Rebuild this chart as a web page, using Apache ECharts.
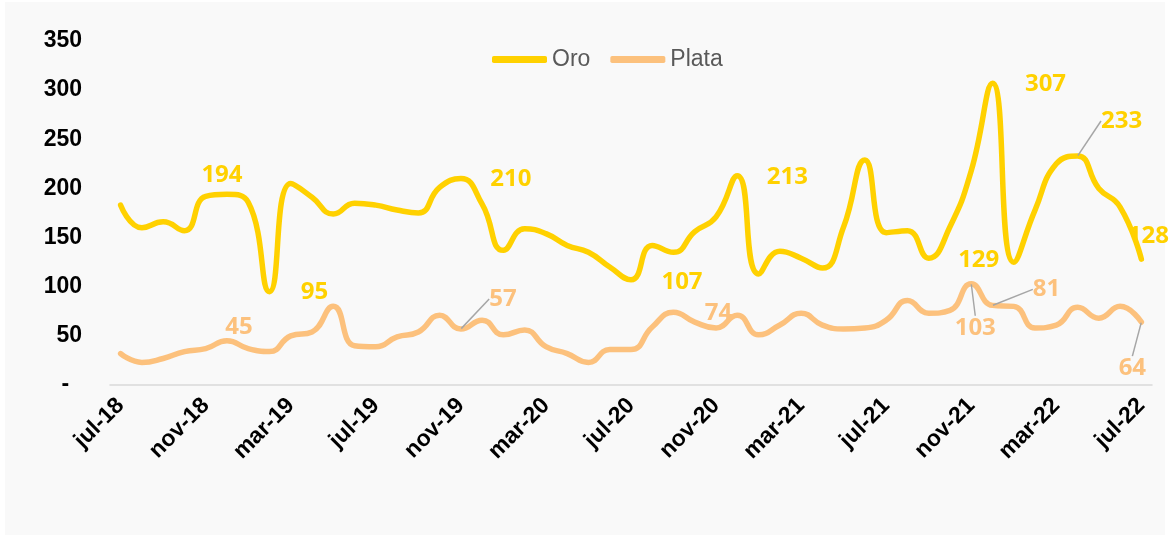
<!DOCTYPE html>
<html>
<head>
<meta charset="utf-8">
<title>Oro y Plata</title>
<script src="https://cdn.jsdelivr.net/npm/echarts@6/dist/echarts.min.js"></script>
<style>
  html, body { margin: 0; padding: 0; background: #fff; }
  #panel { position: absolute; left: 5px; top: 2px; width: 1160px; height: 533px; background: #f9f9f9; }
  #chart { position: absolute; left: 0; top: 0; width: 1173px; height: 539px; }
</style>
</head>
<body>
<div id="panel"></div>
<div id="chart"></div>
<script>
// meses (eje x)
const meses = [
  'jul-18', 'ago-18', 'sep-18', 'oct-18', 'nov-18', 'dic-18',
  'ene-19', 'feb-19', 'mar-19', 'abr-19', 'may-19', 'jun-19',
  'jul-19', 'ago-19', 'sep-19', 'oct-19', 'nov-19', 'dic-19',
  'ene-20', 'feb-20', 'mar-20', 'abr-20', 'may-20', 'jun-20',
  'jul-20', 'ago-20', 'sep-20', 'oct-20', 'nov-20', 'dic-20',
  'ene-21', 'feb-21', 'mar-21', 'abr-21', 'may-21', 'jun-21',
  'jul-21', 'ago-21', 'sep-21', 'oct-21', 'nov-21', 'dic-21',
  'ene-22', 'feb-22', 'mar-22', 'abr-22', 'may-22', 'jun-22',
  'jul-22'
]
const oro = [
  183, 160, 166, 157, 192, 194, 186, 95, 205, 191, 174, 185,
  183, 178, 175, 201, 210, 184, 137, 159, 154, 142, 135, 120,
  107, 142, 135, 156, 171, 213, 113, 136, 129, 119, 161, 229,
  155, 157, 129, 161, 218, 307, 125, 178, 225, 233, 200, 181,
  128
]
const plata = [
  32, 23, 27, 34, 37, 45, 37, 34, 50, 54, 80, 40,
  39, 49, 54, 71, 57, 66, 51, 56, 39, 32, 23, 36,
  36, 59, 74, 64, 58, 71, 51, 61, 73, 61, 57, 58,
  66, 86, 73, 76, 103, 81, 80, 58, 61, 79, 68, 80,
  64
]
// eje y
const yMin = 0
const yMax = 350
const yPaso = 50

// puntos con etiqueta de valor
const oroEtiquetas = [5, 7, 16, 24, 29, 38, 41, 45, 48]
const plataEtiquetas = [5, 16, 26, 40, 41, 48]

// desplazamiento de cada etiqueta: [dx, dy, linea guia]
const oroPos = {
  5: [-5, -19], 7: [45, 1], 16: [50, 1], 24: [51, 2], 29: [50, 2],
  38: [50, 2], 41: [53, 1], 45: [44, -35, true], 48: [7, -23]
}
const plataPos = {
  5: [12, -14], 16: [42, -30, true], 26: [45, 1],
  40: [4, 44, true], 41: [54, -16, true], 48: [-9, 46, true]
}

const colorOro = '#FFD100'
const colorPlata = '#FCC17D'

function puntos(valores, etiquetas, pos) {
  return valores.map(function (v, i) {
    if (etiquetas.indexOf(i) < 0) return v
    return { value: v, label: { show: true }, labelLine: { show: !!pos[i][2] } }
  })
}

function serie(nombre, valores, etiquetas, pos, color) {
  return {
    name: nombre,
    type: 'line',
    data: puntos(valores, etiquetas, pos),
    smooth: 0.5,
    showSymbol: true,
    showAllSymbol: true,
    symbol: 'circle',
    symbolSize: 1,
    itemStyle: { color: color },
    lineStyle: { color: color, width: 5.5, cap: 'round' },
    label: {
      show: false,
      position: 'inside',
      color: color,
      fontFamily: 'Open Sans',
      fontWeight: 'bold',
      fontSize: 24
    },
    labelLine: { show: false, lineStyle: { color: '#a6a6a6', width: 1.5 } },
    labelLayout: function (p) {
      const o = pos[p.dataIndex]
      return o ? { dx: o[0], dy: o[1] } : {}
    }
  }
}

const myChart = echarts.init(document.getElementById('chart'))
const option = {
  animation: false,
  backgroundColor: 'transparent',
  grid: { left: 110, right: 21, top: 41, bottom: 154 },
  legend: {
    data: ['Oro', 'Plata'],
    left: 487,
    top: 43,
    icon: 'roundRect',
    itemWidth: 55,
    itemHeight: 7,
    itemGap: 20,
    textStyle: { fontFamily: 'Liberation Sans', fontSize: 23, color: '#595959' }
  },
  xAxis: {
    type: 'category',
    data: meses,
    boundaryGap: true,
    axisLine: { lineStyle: { color: '#d9d9d9', width: 1.5 } },
    axisTick: { interval: 3, length: 7, lineStyle: { color: '#d9d9d9', width: 1.5 } },
    axisLabel: {
      interval: 3,
      rotate: 45,
      margin: 17,
      color: '#000',
      fontFamily: 'Liberation Sans',
      fontWeight: 'bold',
      fontSize: 23
    }
  },
  yAxis: {
    type: 'value',
    min: yMin,
    max: yMax,
    interval: yPaso,
    axisLine: { show: false },
    axisTick: { show: false },
    splitLine: { show: false },
    axisLabel: {
      margin: 28,
      color: '#000',
      fontFamily: 'Liberation Sans',
      fontWeight: 'bold',
      fontSize: 23,
      formatter: function (v) { return v === 0 ? '-  ' : v }
    }
  },
  series: [
    serie('Oro', oro, oroEtiquetas, oroPos, colorOro),
    serie('Plata', plata, plataEtiquetas, plataPos, colorPlata)
  ]
}
myChart.setOption(option)
window.addEventListener('resize', function () {
  myChart.resize()
})
</script>
</body>
</html>
